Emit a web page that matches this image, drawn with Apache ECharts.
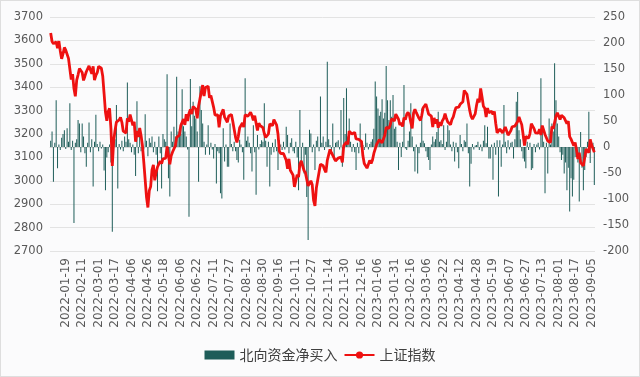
<!DOCTYPE html>
<html>
<head>
<meta charset="utf-8">
<script src="https://cdn.jsdelivr.net/npm/echarts@6/dist/echarts.min.js"></script>
<style>
  html, body { margin: 0; padding: 0; background: #fff; }
  #main { width: 638px; height: 375px; border: 1px solid #dedede; background: #fbfbfc; }
</style>
</head>
<body>
<div id="main"></div>
<script>
// 北向交易日：工作日去掉沪港两地休市日
const startDay = '2022-01-04'
const endDay = '2023-09-07'
const closedDays = [
  '2022-01-31', '2022-02-01', '2022-02-02', '2022-02-03', '2022-02-04',
  '2022-04-04', '2022-04-05', '2022-04-15', '2022-04-18',
  '2022-05-02', '2022-05-03', '2022-05-04', '2022-05-09',
  '2022-06-03', '2022-07-01', '2022-09-12',
  '2022-10-03', '2022-10-04', '2022-10-05', '2022-10-06', '2022-10-07',
  '2022-12-26', '2022-12-27',
  '2023-01-02', '2023-01-23', '2023-01-24', '2023-01-25', '2023-01-26', '2023-01-27',
  '2023-04-05', '2023-04-07', '2023-04-10',
  '2023-05-01', '2023-05-02', '2023-05-03', '2023-05-26',
  '2023-06-22', '2023-06-23', '2023-07-17', '2023-09-01'
]

// 上证指数收盘（按月一行）
const shIndex = [
  3632, 3595, 3586, 3580, 3594, 3567, 3597, 3555, 3521, 3542, 3570, 3558, 3555, 3523, 3524, 3433, 3456, 3394, 3361,
  3430, 3453, 3480, 3486, 3463, 3429, 3447, 3466, 3468, 3491, 3491, 3457, 3489, 3430, 3451, 3462,
  3489, 3484, 3481, 3448, 3373, 3294, 3256, 3296, 3310, 3224, 3064, 3171, 3215, 3251, 3254, 3260, 3271, 3250, 3212, 3215, 3204, 3267, 3252,
  3283, 3283, 3237, 3252, 3167, 3213, 3187, 3226, 3194, 3151, 3080, 3087, 2929, 2886, 2958, 2975, 3047,
  3068, 3002, 3036, 3059, 3055, 3084, 3074, 3094, 3086, 3097, 3147, 3147, 3071, 3107, 3123, 3130, 3149, 3186,
  3182, 3195, 3236, 3242, 3264, 3239, 3285, 3256, 3289, 3305, 3285, 3317, 3315, 3307, 3267, 3320, 3350, 3379, 3409, 3362, 3399,
  3405, 3404, 3355, 3364, 3356, 3314, 3281, 3284, 3282, 3228, 3278, 3279, 3305, 3272, 3270, 3250, 3277, 3276, 3283, 3253,
  3260, 3186, 3164, 3189, 3227, 3237, 3247, 3230, 3282, 3277, 3276, 3278, 3293, 3278, 3258, 3278, 3276, 3215, 3246, 3236, 3241, 3227, 3202,
  3185, 3186, 3200, 3243, 3246, 3236, 3262, 3264, 3238, 3200, 3126, 3116, 3122, 3117, 3109, 3088, 3051, 3094, 3045, 3041, 3024,
  2974, 2980, 3026, 3016, 3072, 3085, 3081, 3044, 3035, 3039, 2978, 2976, 3000, 2983, 2916, 2893,
  2969, 3003, 2998, 3071, 3078, 3064, 3048, 3036, 3087, 3083, 3134, 3120, 3115, 3097, 3085, 3089, 3097, 3089, 3102, 3079, 3150, 3151,
  3165, 3156, 3212, 3213, 3200, 3197, 3207, 3179, 3176, 3177, 3169, 3168, 3107, 3074, 3068, 3054, 3046, 3087, 3074, 3089,
  3117, 3124, 3155, 3158, 3176, 3170, 3162, 3163, 3195, 3228, 3224, 3224, 3240, 3265, 3269, 3256,
  3285, 3286, 3263, 3239, 3248, 3232, 3270, 3261, 3284, 3293, 3280, 3249, 3224, 3290, 3306, 3291, 3287, 3267, 3258, 3280,
  3312, 3311, 3328, 3322, 3285, 3283, 3276, 3230, 3269, 3245, 3263, 3227, 3251, 3235, 3256, 3266, 3287, 3266, 3251, 3245, 3240, 3261, 3273,
  3296, 3313, 3313, 3315, 3327, 3319, 3338, 3386, 3393, 3370, 3367, 3301, 3275, 3264, 3265, 3286, 3323,
  3350, 3335, 3395, 3358, 3319, 3310, 3272, 3311, 3291, 3284, 3297, 3284, 3296, 3246, 3205, 3201, 3221, 3224, 3205,
  3205, 3230, 3232, 3195, 3198, 3214, 3231, 3229, 3234, 3229, 3253, 3273, 3256, 3240, 3198, 3151, 3189, 3189, 3182, 3202,
  3244, 3245, 3223, 3205, 3197, 3204, 3221, 3196, 3236, 3238, 3198, 3199, 3170, 3168, 3164, 3232, 3223, 3217, 3276, 3291,
  3291, 3262, 3280, 3288, 3269, 3261, 3244, 3255, 3189, 3178, 3176, 3150, 3164, 3132, 3093, 3120, 3078, 3082, 3064, 3099, 3136, 3137, 3120,
  3177, 3154, 3158, 3122
]

// 北向资金净买入（亿元，按月一行）
const northNet = [
  12, 30, -67, 8, 90, -41, 5, -6, 18, 25, 32, -4, 36, 10, 84, -6, 12, -146, 8,
  15, 52, 45, -10, 45, 20, -12, -38, 8, 47, -10, 15, -76, 10, 62, 6,
  -8, 10, -3, 5, -45, -83, -20, -10, 5, -30, -163, 20, 15, 81, -80, 6, -5, 12, -8, 20, 10, 124, 15,
  8, -10, 5, -15, -56, 88, -12, 20, -8, 10, -5, 63, 12, -18, 17, 8, 20,
  -10, 10, -15, -85, 20, -12, -80, 25, 15, 10, 140, -60, -95, 30, 10, 39, 20, 135,
  30, 35, 25, 111, 40, 30, 20, -5, -134, 131, 40, 87, 60, 55, 30, -67, 117, 71, 45, 10, -15,
  5, 42, -15, 8, -5, -22, 6, -70, -8, -12, -89, -99, 36, -28, 5, -38, -38, 45, 6, -8,
  10, -8, -25, -30, 14, 5, -10, -63, 132, 12, 20, 8, -12, -47, 42, -10, -92, 23, -5, 6, 13, 10, 84,
  12, -38, 10, -76, -15, 8, -10, 15, -8, -44, 13, 5, -6, 10, -5, 39, 23, -12, 8, 17, -8,
  -12, 10, -20, -83, 71, -31, 8, -51, -15, -96, -179, 33, 26, -10, 5, -44,
  12, 20, -8, 97, 8, 20, -6, 10, 164, 15, 4, -10, 45, -25, 8, 10, 13, -5, 71, -38, 94, 25,
  113, 20, 55, 10, -9, 6, -10, -44, 8, -12, 45, 10, 4, -6, 26, 8, -5, 6, 10, 15,
  35, 126, 97, 74, 60, 68, 92, 55, 66, 156, 90, 52, 90, 58, 100, 35,
  39, 10, -44, 8, -19, 10, 119, -3, -6, 12, 30, 84, 20, -8, -47, 5, -51, -12, 8, 74,
  12, 7, -8, -19, -25, -44, 5, 20, 10, 15, 29, 68, 10, 13, 6, 42, -6, 10, 42, 32, 5, -8, 10,
  -28, 8, -10, -41, 23, 6, -8, 13, 10, 45, -12, -76, -32, 6, -5, 3, 4,
  10, -6, 5, -8, 12, 42, 7, 39, -22, -22, 5, -63, 8, -15, 13, -95, 13, -38, 5,
  81, 10, -12, 13, -5, 8, 10, -22, 15, 87, 106, 32, 15, -8, -22, -28, -41, 10, -6, 8,
  -44, -41, 6, -10, 5, 8, -5, 132, 39, 10, -89, 8, -51, 55, 5, 45, 30, 161, 90, 45,
  20, -10, -25, -15, -51, -30, -83, -40, -124, -60, -95, -63, -19, -19, -30, -105, 29, -40, -83, -44, -19, 10, 68,
  -31, 5, 8, -73
]

function buildDays (from, to, skip) {
  const out = []
  const d = new Date(from + 'T00:00:00Z')
  const last = new Date(to + 'T00:00:00Z')
  while (d <= last) {
    const s = d.toISOString().slice(0, 10)
    const wd = d.getUTCDay()
    if (wd !== 0 && wd !== 6 && skip.indexOf(s) < 0) out.push(s)
    d.setUTCDate(d.getUTCDate() + 1)
  }
  return out
}
const days = buildDays(startDay, endDay, closedDays)

const labelFont = 'DejaVu Sans'
const cnFont = 'Noto Sans CJK SC'
const plain = function (v) { return String(v) }

let myChart = echarts.init(document.getElementById('main'))
const option = {
  animation: false,
  grid: { left: 49, right: 44, top: 16, bottom: 125 },
  legend: {
    top: 342,
    left: 'center',
    itemWidth: 30,
    itemHeight: 9,
    itemGap: 6,
    textStyle: { fontFamily: cnFont, fontSize: 14, color: '#404040' },
    data: [
      { name: '北向资金净买入', icon: 'rect' },
      { name: '上证指数' }
    ]
  },
  xAxis: {
    type: 'category',
    data: days,
    axisLine: { show: true, lineStyle: { color: '#d9d9d9' } },
    axisTick: { show: false },
    axisLabel: {
      rotate: 90,
      margin: 7,
      fontFamily: labelFont,
      fontSize: 12,
      color: '#595959',
      interval: function (i) { return i >= 11 && (i - 11) % 12 === 0 }
    }
  },
  yAxis: [
    {
      type: 'value',
      min: 2700,
      max: 3700,
      interval: 100,
      axisLine: { show: false },
      axisTick: { show: false },
      axisLabel: { fontFamily: labelFont, fontSize: 11.5, color: '#595959', margin: 7, formatter: plain },
      splitLine: { lineStyle: { color: '#e3e3e3' } }
    },
    {
      type: 'value',
      min: -200,
      max: 250,
      interval: 50,
      axisLine: { show: false },
      axisTick: { show: false },
      axisLabel: { fontFamily: labelFont, fontSize: 11.5, color: '#595959', margin: 8, formatter: plain },
      splitLine: { show: false }
    }
  ],
  series: [
    {
      name: '北向资金净买入',
      type: 'bar',
      yAxisIndex: 1,
      barCategoryGap: '30%',
      itemStyle: { color: '#1e5d59' },
      data: northNet
    },
    {
      name: '上证指数',
      type: 'line',
      yAxisIndex: 0,
      symbol: 'none',
      lineStyle: { color: '#ee1111', width: 2.8 },
      itemStyle: { color: '#ee1111' },
      z: 5,
      data: shIndex
    }
  ]
}
myChart.setOption(option)
</script>
</body>
</html>
